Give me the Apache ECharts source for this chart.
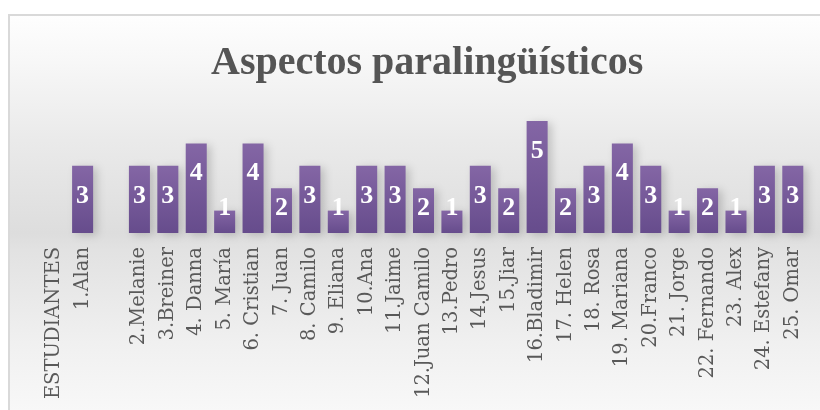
<!DOCTYPE html>
<html>
<head>
<meta charset="utf-8">
<script src="https://cdn.jsdelivr.net/npm/echarts@6/dist/echarts.min.js"></script>
<style>
  html, body { margin: 0; padding: 0; background: #fff; }
  #chart { width: 820px; height: 410px; }
</style>
</head>
<body>
<div id="chart"></div>
<script>
// datos del gráfico
const titulo = 'Aspectos paralingüísticos'
const estudiantes = ['ESTUDIANTES', '1.Alan', '', '2.Melanie', '3.Breiner', '4. Danna', '5. María', '6. Cristian',
  '7. Juan', '8. Camilo', '9. Eliana', '10.Ana', '11.Jaime', '12.Juan Camilo', '13.Pedro', '14.Jesus', '15.Jiar',
  '16.Bladimir', '17. Helen', '18. Rosa', '19. Mariana', '20.Franco', '21. Jorge', '22. Fernando', '23. Alex',
  '24. Estefany', '25. Omar']
const puntajes = [null, 3, null, 3, 3, 4, 1, 4, 2, 3, 1, 3, 3, 2, 1, 3, 2, 5, 2, 3, 4, 3, 1, 2, 1, 3, 3]

const myChart = echarts.init(document.getElementById('chart'), null, { renderer: 'canvas' })

// etiqueta arriba en barras altas, abajo en las bajas
const datos = puntajes.map(v => {
  if (v == null) return v
  return {
    value: v,
    label: v >= 3 ? { position: 'insideTop', distance: 19 } : { position: 'insideBottom', distance: 14 }
  }
})

const option = {
  backgroundColor: '#ffffff',
  animation: false,
  graphic: [
    {
      type: 'rect',
      z: -10,
      silent: true,
      shape: { x: 9, y: 15, width: 830, height: 420 },
      style: {
        fill: new echarts.graphic.LinearGradient(0, 0, 0, 1, [
          { offset: 0, color: '#fefefe' },
          { offset: 0.1, color: '#f8f8f8' },
          { offset: 0.3, color: '#eaeaea' },
          { offset: 0.52, color: '#dddddd' },
          { offset: 0.56, color: '#e2e2e2' },
          { offset: 0.78, color: '#f0f0f0' },
          { offset: 1, color: '#fbfbfb' }
        ]),
        stroke: '#d9d9d9',
        lineWidth: 2
      }
    }
  ],
  title: {
    text: titulo,
    left: 206,
    top: 39,
    textStyle: {
      fontFamily: 'Liberation Serif',
      fontWeight: 'bold',
      fontSize: 40,
      color: '#555555'
    }
  },
  grid: {
    left: 40,
    right: 13,
    top: 121,
    bottom: 177,
    containLabel: false
  },
  xAxis: {
    type: 'category',
    data: estudiantes,
    axisLine: { show: false },
    axisTick: { show: false },
    axisLabel: {
      interval: 0,
      rotate: 90,
      margin: 14,
      color: '#595959',
      fontFamily: 'DejaVu Serif',
      fontSize: 19.5,
      lineHeight: 22
    }
  },
  yAxis: {
    type: 'value',
    min: 0,
    max: 5,
    show: false,
    splitLine: { show: false }
  },
  series: [
    {
      type: 'bar',
      data: datos,
      barCategoryGap: '26%',
      itemStyle: {
        color: new echarts.graphic.LinearGradient(0, 0, 0, 1, [
          { offset: 0, color: '#8466a5' },
          { offset: 1, color: '#664c8c' }
        ]),
        shadowColor: 'rgba(0,0,0,0.18)',
        shadowBlur: 8,
        shadowOffsetX: 4,
        shadowOffsetY: 2
      },
      label: {
        show: true,
        color: '#ffffff',
        fontFamily: 'Liberation Serif',
        fontWeight: 'bold',
        fontSize: 26,
        lineHeight: 22
      }
    }
  ]
}
myChart.setOption(option)
</script>
</body>
</html>
